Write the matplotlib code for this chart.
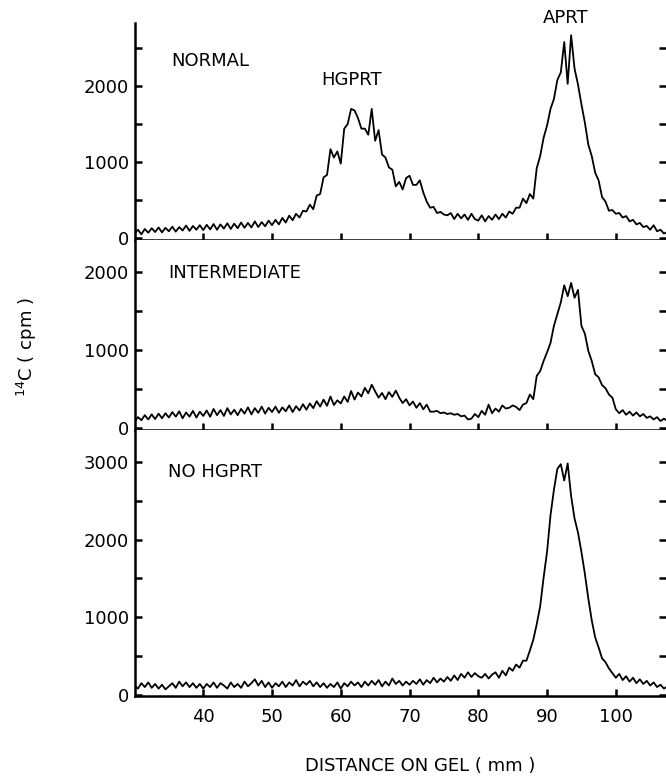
import numpy as np
import matplotlib
matplotlib.use('Agg')
import matplotlib.pyplot as plt
from matplotlib.ticker import MultipleLocator

# distance on gel (mm), sampled every 0.5 mm
distance = np.arange(30.0, 107.51, 0.5)

# 14C counts (cpm)
normal = [
  60, 110, 50, 120, 70, 130, 80, 140, 75, 135,
  90, 150, 85, 145, 100, 165, 95, 160, 110, 170,
  105, 175, 115, 185, 110, 180, 125, 195, 120, 190,
  130, 205, 135, 200, 140, 220, 145, 210, 155, 230,
  170, 240, 180, 265, 205, 295, 235, 320, 270, 360,
  350, 440, 380, 560, 580, 800, 830, 1170, 1060, 1140,
  980, 1440, 1500, 1700, 1680, 1580, 1440, 1440, 1360, 1700,
  1280, 1420, 1100, 1060, 930, 900, 680, 740, 640, 790,
  820, 700, 700, 760, 600, 480, 400, 410, 330, 345,
  310, 300, 330, 250, 320, 260, 310, 240, 320, 250,
  230, 300, 220, 290, 240, 310, 250, 320, 270, 350,
  320, 400, 400, 520, 460, 580, 520, 920, 1080, 1320,
  1480, 1700, 1830, 2080, 2180, 2580, 2030, 2670, 2230, 2020,
  1760, 1520, 1230, 1080, 860, 760, 540, 480, 360, 370,
  320, 330, 270, 290, 220, 240, 180, 200, 145, 160,
  110, 170, 90, 110, 60, 80,
]

intermediate = [
  80, 140, 100, 165, 110, 175, 115, 185, 125, 190,
  135, 205, 145, 215, 125, 200, 145, 220, 135, 210,
  155, 225, 145, 245, 165, 230, 155, 255, 175, 235,
  165, 245, 185, 265, 175, 255, 195, 275, 185, 260,
  205, 275, 195, 265, 215, 290, 205, 280, 225, 305,
  235, 315, 255, 345, 275, 365, 285, 405, 295, 355,
  315, 405, 335, 475, 365, 455, 405, 515, 445, 555,
  470, 390, 450, 370, 460, 400, 480, 390, 320, 370,
  290, 340, 260, 320, 240, 300, 210, 210, 220, 190,
  200, 180, 190, 170, 180, 150, 160, 110, 120, 180,
  140, 220, 170, 300, 190, 250, 210, 290, 250, 260,
  290, 270, 230, 300, 320, 430, 370, 670, 730, 860,
  970, 1090, 1310, 1460, 1610, 1830, 1690, 1860, 1670, 1770,
  1310, 1210, 990, 860, 690, 650, 550, 510, 430, 390,
  240, 190, 230, 170, 210, 160, 200, 150, 180, 130,
  150, 110, 140, 90, 120, 90,
]

no_hgprt = [
  120, 80, 150, 100, 160, 90, 140, 80, 130, 70,
  110, 150, 90, 170, 110, 160, 100, 150, 90, 140,
  80, 140, 100, 160, 90, 150, 120, 80, 160, 100,
  140, 90, 170, 110, 150, 200, 120, 180, 100, 160,
  90, 150, 110, 170, 100, 160, 120, 190, 110, 170,
  130, 180, 110, 160, 100, 150, 90, 140, 100, 160,
  80, 150, 110, 170, 120, 160, 100, 170, 120, 180,
  130, 190, 110, 170, 120, 210, 140, 180, 120, 170,
  130, 180, 140, 200, 130, 190, 150, 220, 160, 210,
  170, 230, 180, 250, 190, 270, 220, 290, 230, 280,
  240, 220, 270, 210, 260, 290, 220, 310, 250, 350,
  310, 390, 350, 440, 440, 570, 710, 910, 1140, 1510,
  1840, 2310, 2640, 2910, 2970, 2760, 2980, 2560, 2270, 2090,
  1840, 1560, 1240, 960, 740, 610, 470, 420, 340, 280,
  220, 270, 190, 240, 170, 220, 150, 200, 140, 180,
  120, 160, 100, 130, 80, 110,
]

series = [normal, intermediate, no_hgprt]
y_limits = [(-25, 2830), (-25, 2410), (-15, 3410)]
x_ticks = [40, 50, 60, 70, 80, 90, 100]

W, H = 666, 776
fig = plt.figure(figsize=(W / 100, H / 100), dpi=100)
plt.rcParams['font.family'] = 'DejaVu Sans'

# panel edges in pixels (top, bottom)
panel_px = [(23, 240), (240, 430), (430, 696)]
left_px, right_px = 134.5, 666

axes = []
for (top, bot), vals, ylim in zip(panel_px, series, y_limits):
  ax = fig.add_axes([left_px / W, 1 - bot / H, (right_px - left_px) / W, (bot - top) / H])
  ax.plot(distance, vals, color='black', lw=1.3)
  ax.set_xlim(30, 107.3)
  ax.set_ylim(*ylim)
  for side in ('top', 'right'):
    ax.spines[side].set_visible(False)
  for side in ('left', 'bottom'):
    ax.spines[side].set_linewidth(1.8)
  ax.set_xticks(x_ticks)
  ax.yaxis.set_major_locator(MultipleLocator(1000))
  ax.yaxis.set_minor_locator(MultipleLocator(500))
  ax.tick_params(axis='both', which='both', direction='in', length=5, width=1.8,
                 labelsize=13, pad=4)
  ax.tick_params(axis='y', which='both', right=True)
  ax.tick_params(axis='x', labelbottom=False)
  axes.append(ax)

axes[-1].tick_params(axis='x', labelbottom=True, pad=9)

axes[0].text(35.3, 2330, 'NORMAL', fontsize=13, ha='left', va='center')
axes[0].text(57.2, 2080, 'HGPRT', fontsize=13, ha='left', va='center')
axes[0].text(92.7, 2895, 'APRT', fontsize=13, ha='center', va='center')
axes[1].text(34.9, 1990, 'INTERMEDIATE', fontsize=13, ha='left', va='center')
axes[2].text(34.9, 2870, 'NO HGPRT', fontsize=13, ha='left', va='center')

fig.text(27 / W, 1 - 347 / H, r'$^{14}$C ( cpm )', fontsize=13, rotation=90,
         ha='center', va='center')
fig.text(420 / W, 1 - 766 / H, 'DISTANCE ON GEL ( mm )', fontsize=13,
         ha='center', va='center')

fig.savefig('out.png', dpi=100)
